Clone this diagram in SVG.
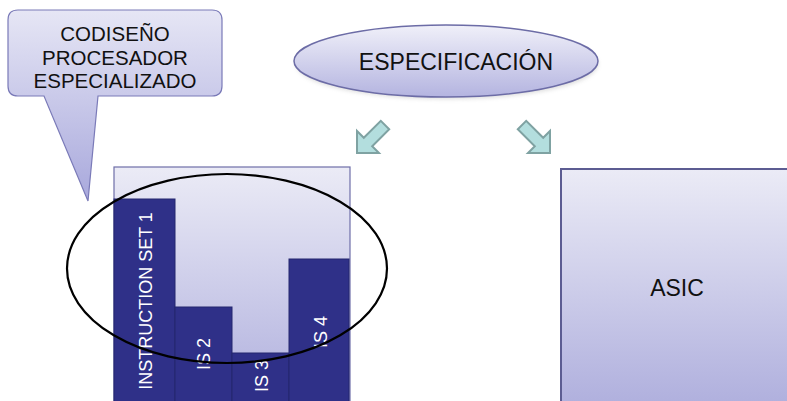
<svg xmlns="http://www.w3.org/2000/svg" width="787" height="401" viewBox="0 0 787 401">
  <defs>
    <linearGradient id="gCallout" x1="0" y1="0" x2="0" y2="1">
      <stop offset="0" stop-color="#e6e6f5"/>
      <stop offset="1" stop-color="#a8a8dc"/>
    </linearGradient>
    <linearGradient id="gSpec" x1="0" y1="0" x2="0" y2="1">
      <stop offset="0" stop-color="#f0f0f9"/>
      <stop offset="1" stop-color="#b4b4e0"/>
    </linearGradient>
    <linearGradient id="gBox" x1="0" y1="0" x2="0" y2="1">
      <stop offset="0" stop-color="#ebebf6"/>
      <stop offset="1" stop-color="#acacdc"/>
    </linearGradient>
    <filter id="soft" x="-10%" y="-20%" width="120%" height="150%">
      <feGaussianBlur stdDeviation="2"/>
    </filter>
  </defs>
  <style>
    .lbl { font-family: "Liberation Sans", Arial, sans-serif; fill: #111111; text-anchor: middle; }
    .bar { fill: #2f3088; stroke: #25276e; stroke-width: 1; }
    .barlbl { font-family: "Liberation Sans", Arial, sans-serif; fill: #ffffff; font-size: 18px; text-anchor: middle; }
    .box { fill: url(#gBox); stroke: #6e6ea8; stroke-width: 1.2; }
    .blockarrow { fill: #b3dede; stroke: #7fa2a2; stroke-width: 2; stroke-linejoin: miter; }
  </style>
  <rect width="787" height="401" fill="#ffffff"/>

  <g id="callout">
    <path d="M18,10 H212 Q222,10 222,20 V86 Q222,96 212,96 H98 L88,201 L44,96 H18 Q8,96 8,86 V20 Q8,10 18,10 Z" fill="url(#gCallout)" stroke="#7a7ab8" stroke-width="1.2"/>
    <text class="lbl" font-size="20.5" x="115" y="41">CODISEÑO</text>
    <text class="lbl" font-size="20.5" x="115" y="65">PROCESADOR</text>
    <text class="lbl" font-size="20.5" x="115" y="88">ESPECIALIZADO</text>
  </g>

  <g id="especificacion">
    <ellipse cx="447" cy="64" rx="151" ry="35" fill="#999999" opacity="0.35" filter="url(#soft)"/>
    <ellipse cx="446" cy="61" rx="152" ry="36" fill="url(#gSpec)" stroke="#6c6ca6" stroke-width="1.5"/>
    <text class="lbl" font-size="23" x="456" y="70">ESPECIFICACIÓN</text>
  </g>

  <g id="connectors">
    <polygon class="blockarrow" points="357,153 357,131 363.8,137.8 380.8,120.8 389.2,129.2 372.2,146.2 379,153"/>
    <polygon class="blockarrow" points="550,153 550,131 543.2,137.8 526.2,120.8 517.8,129.2 534.8,146.2 528,153"/>
  </g>

  <g id="procesador">
    <rect class="box" x="114" y="167" width="236" height="250"/>
    <g id="is1">
      <rect class="bar" x="114" y="199" width="61" height="215"/>
      <text class="barlbl" transform="translate(152,301) rotate(-90)">INSTRUCTION SET 1</text>
    </g>
    <g id="is2">
      <rect class="bar" x="175" y="307" width="57" height="107"/>
      <text class="barlbl" transform="translate(210,354) rotate(-90)">IS 2</text>
    </g>
    <g id="is3">
      <rect class="bar" x="232" y="353" width="57" height="61"/>
      <text class="barlbl" transform="translate(268,376) rotate(-90)">IS 3</text>
    </g>
    <g id="is4">
      <rect class="bar" x="289" y="259" width="60" height="155"/>
      <text class="barlbl" transform="translate(327,332) rotate(-90)">IS 4</text>
    </g>
  </g>

  <g id="asic">
    <rect x="561" y="169" width="240" height="250" fill="url(#gBox)" stroke="#5c5c92" stroke-width="2"/>
    <text class="lbl" font-size="23" x="677" y="296">ASIC</text>
  </g>

  <g id="highlight">
    <ellipse cx="227" cy="268.5" rx="160" ry="94.5" fill="none" stroke="#000000" stroke-width="2.2"/>
  </g>
</svg>
